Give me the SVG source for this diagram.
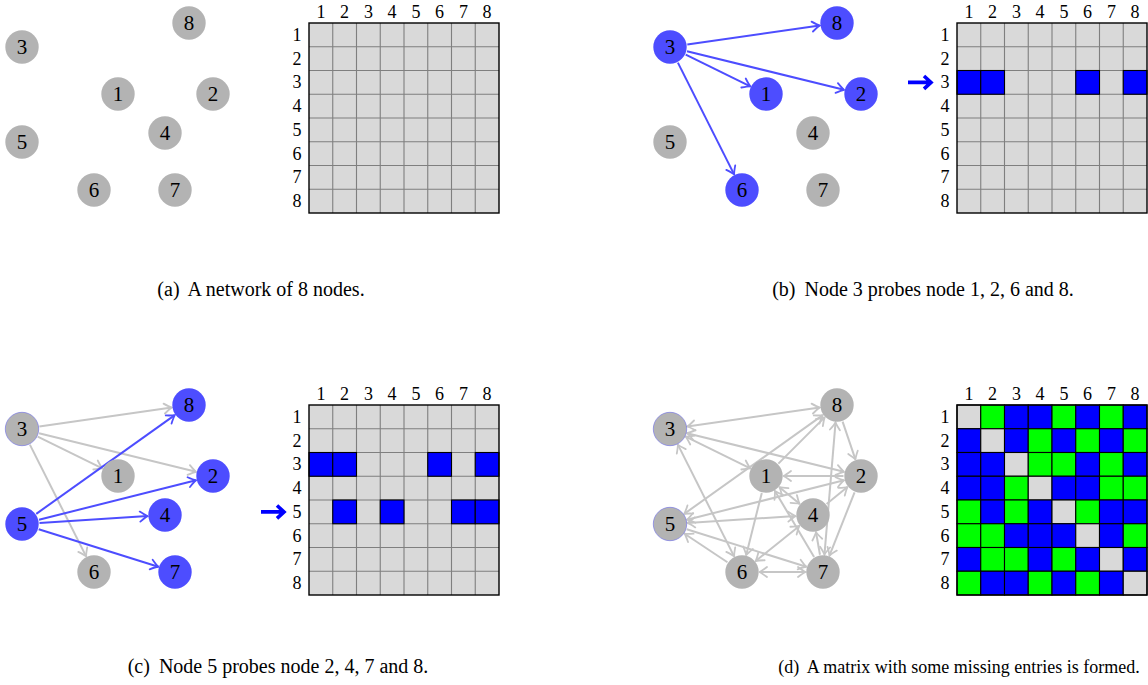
<svg xmlns="http://www.w3.org/2000/svg" width="1148" height="685" viewBox="0 0 1148 685">
<style>
.ng{fill:#b3b3b3}
.nb{fill:#4d4dff}
.no{stroke:#7a7ae6;stroke-width:0.7}
.nl{font-family:"Liberation Serif","Times New Roman",serif;font-size:21px;text-anchor:middle;fill:#000}
.ml{font-family:"Liberation Serif","Times New Roman",serif;font-size:18px;text-anchor:middle;fill:#000}
.cap{font-family:"Liberation Serif","Times New Roman",serif;font-size:20px;text-anchor:middle;fill:#000}
.capd{font-size:18px}
.eb{stroke:#4d4dff;stroke-width:2;fill:none;marker-end:url(#mb)}
.eg{stroke:#c6c6c6;stroke-width:2;fill:none;marker-end:url(#mg)}
.bi{marker-start:url(#mg)}
.bg{fill:#d9d9d9}
.grid{stroke:#7f7f7f;stroke-width:1.1;fill:none}
.frame{stroke:#000;stroke-width:1.4;fill:none}
.cb{fill:#0000ff;stroke:#000;stroke-width:1.1}
.cg{fill:#00ff00;stroke:#000;stroke-width:1.1}
.cd{fill:#d9d9d9;stroke:#000;stroke-width:1.1}
.big{stroke:#0000ff;stroke-width:3.6;fill:none}
</style>
<defs>
<marker id="mb" viewBox="-9 -7 10 14" refX="0" refY="0" markerWidth="10" markerHeight="14" markerUnits="userSpaceOnUse" orient="auto-start-reverse"><path d="M-7.5,-5 Q-2.5,-1.2 0,0 Q-2.5,1.2 -7.5,5" fill="none" stroke="#4d4dff" stroke-width="1.8" stroke-linecap="round"/></marker>
<marker id="mg" viewBox="-9 -7 10 14" refX="0" refY="0" markerWidth="10" markerHeight="14" markerUnits="userSpaceOnUse" orient="auto-start-reverse"><path d="M-7.5,-5 Q-2.5,-1.2 0,0 Q-2.5,1.2 -7.5,5" fill="none" stroke="#c6c6c6" stroke-width="1.8" stroke-linecap="round"/></marker>
<path id="gridpath" d="M332.75,23V213M356.5,23V213M380.25,23V213M404,23V213M427.75,23V213M451.5,23V213M475.25,23V213M309,46.75H499M309,70.5H499M309,94.25H499M309,118H499M309,141.75H499M309,165.5H499M309,189.25H499"/>
</defs>

<!-- ================= Panel (a) ================= -->
<g id="panel-a">
<g id="a-n3"><circle class="ng" cx="22" cy="47" r="16.7"/><text class="nl" x="22" y="54">3</text></g>
<g id="a-n8"><circle class="ng" cx="189" cy="23" r="16.7"/><text class="nl" x="189" y="30">8</text></g>
<g id="a-n1"><circle class="ng" cx="118" cy="94" r="16.7"/><text class="nl" x="118" y="101">1</text></g>
<g id="a-n2"><circle class="ng" cx="213" cy="94" r="16.7"/><text class="nl" x="213" y="101">2</text></g>
<g id="a-n4"><circle class="ng" cx="165" cy="133" r="16.7"/><text class="nl" x="165" y="140">4</text></g>
<g id="a-n5"><circle class="ng" cx="22" cy="142" r="16.7"/><text class="nl" x="22" y="149">5</text></g>
<g id="a-n6"><circle class="ng" cx="94" cy="190" r="16.7"/><text class="nl" x="94" y="197">6</text></g>
<g id="a-n7"><circle class="ng" cx="175" cy="190" r="16.7"/><text class="nl" x="175" y="197">7</text></g>
<g id="a-matrix">
<rect class="bg" x="309" y="23" width="190" height="190"/>
<use href="#gridpath" class="grid"/>
<rect class="frame" x="309" y="23" width="190" height="190"/>
<text class="ml" x="320.9" y="17.5">1</text><text class="ml" x="344.6" y="17.5">2</text><text class="ml" x="368.4" y="17.5">3</text><text class="ml" x="392.1" y="17.5">4</text><text class="ml" x="415.9" y="17.5">5</text><text class="ml" x="439.6" y="17.5">6</text><text class="ml" x="463.4" y="17.5">7</text><text class="ml" x="487.1" y="17.5">8</text>
<text class="ml" x="297" y="40.9">1</text><text class="ml" x="297" y="64.6">2</text><text class="ml" x="297" y="88.4">3</text><text class="ml" x="297" y="112.1">4</text><text class="ml" x="297" y="135.9">5</text><text class="ml" x="297" y="159.6">6</text><text class="ml" x="297" y="183.4">7</text><text class="ml" x="297" y="207.1">8</text>
</g>
<text class="cap" x="261" y="296">(a) <tspan dx="4">A network of 8 nodes.</tspan></text>
</g>

<!-- ================= Panel (b) ================= -->
<g id="panel-b" transform="translate(648,0)">
<g id="b-edges">
<line class="eb" x1="37.72" y1="54.69" x2="102.28" y2="86.31"/>
<line class="eb" x1="38.99" y1="51.18" x2="196.01" y2="89.82"/>
<line class="eb" x1="29.87" y1="62.63" x2="86.13" y2="174.37"/>
<line class="eb" x1="39.32" y1="44.51" x2="171.68" y2="25.49"/>
</g>
<g id="b-n3"><circle class="nb" cx="22" cy="47" r="16.7"/><text class="nl" x="22" y="54">3</text></g>
<g id="b-n8"><circle class="nb" cx="189" cy="23" r="16.7"/><text class="nl" x="189" y="30">8</text></g>
<g id="b-n1"><circle class="nb" cx="118" cy="94" r="16.7"/><text class="nl" x="118" y="101">1</text></g>
<g id="b-n2"><circle class="nb" cx="213" cy="94" r="16.7"/><text class="nl" x="213" y="101">2</text></g>
<g id="b-n4"><circle class="ng" cx="165" cy="133" r="16.7"/><text class="nl" x="165" y="140">4</text></g>
<g id="b-n5"><circle class="ng" cx="22" cy="142" r="16.7"/><text class="nl" x="22" y="149">5</text></g>
<g id="b-n6"><circle class="nb" cx="94" cy="190" r="16.7"/><text class="nl" x="94" y="197">6</text></g>
<g id="b-n7"><circle class="ng" cx="175" cy="190" r="16.7"/><text class="nl" x="175" y="197">7</text></g>
<g id="b-matrix">
<rect class="bg" x="309" y="23" width="190" height="190"/>
<use href="#gridpath" class="grid"/>
<rect class="cb" x="309" y="70.5" width="23.75" height="23.75"/><rect class="cb" x="332.75" y="70.5" width="23.75" height="23.75"/><rect class="cb" x="427.75" y="70.5" width="23.75" height="23.75"/><rect class="cb" x="475.25" y="70.5" width="23.75" height="23.75"/>
<rect class="frame" x="309" y="23" width="190" height="190"/>
<text class="ml" x="320.9" y="17.5">1</text><text class="ml" x="344.6" y="17.5">2</text><text class="ml" x="368.4" y="17.5">3</text><text class="ml" x="392.1" y="17.5">4</text><text class="ml" x="415.9" y="17.5">5</text><text class="ml" x="439.6" y="17.5">6</text><text class="ml" x="463.4" y="17.5">7</text><text class="ml" x="487.1" y="17.5">8</text>
<text class="ml" x="297" y="40.9">1</text><text class="ml" x="297" y="64.6">2</text><text class="ml" x="297" y="88.4">3</text><text class="ml" x="297" y="112.1">4</text><text class="ml" x="297" y="135.9">5</text><text class="ml" x="297" y="159.6">6</text><text class="ml" x="297" y="183.4">7</text><text class="ml" x="297" y="207.1">8</text>
<path class="big" d="M260,82.4H283M276,76L283,82.4L276,88.8"/>
</g>
<text class="cap" x="275" y="296">(b) <tspan dx="4">Node 3 probes node 1, 2, 6 and 8.</tspan></text>
</g>

<!-- ================= Panel (c) ================= -->
<g id="panel-c" transform="translate(0,382)">
<g id="c-edges">
<line class="eg" x1="37.72" y1="54.69" x2="102.28" y2="86.31"/>
<line class="eg" x1="38.99" y1="51.18" x2="196.01" y2="89.82"/>
<line class="eg" x1="29.87" y1="62.63" x2="86.13" y2="174.37"/>
<line class="eg" x1="39.32" y1="44.51" x2="171.68" y2="25.49"/>
<line class="eb" x1="38.97" y1="137.73" x2="196.03" y2="98.27"/>
<line class="eb" x1="39.47" y1="140.90" x2="147.53" y2="134.10"/>
<line class="eb" x1="38.70" y1="147.24" x2="158.30" y2="184.76"/>
<line class="eb" x1="36.25" y1="131.84" x2="174.75" y2="33.16"/>
</g>
<g id="c-n3"><circle class="ng no" cx="22" cy="47" r="16.7"/><text class="nl" x="22" y="54">3</text></g>
<g id="c-n8"><circle class="nb" cx="189" cy="23" r="16.7"/><text class="nl" x="189" y="30">8</text></g>
<g id="c-n1"><circle class="ng" cx="118" cy="94" r="16.7"/><text class="nl" x="118" y="101">1</text></g>
<g id="c-n2"><circle class="nb" cx="213" cy="94" r="16.7"/><text class="nl" x="213" y="101">2</text></g>
<g id="c-n4"><circle class="nb" cx="165" cy="133" r="16.7"/><text class="nl" x="165" y="140">4</text></g>
<g id="c-n5"><circle class="nb" cx="22" cy="142" r="16.7"/><text class="nl" x="22" y="149">5</text></g>
<g id="c-n6"><circle class="ng" cx="94" cy="190" r="16.7"/><text class="nl" x="94" y="197">6</text></g>
<g id="c-n7"><circle class="nb" cx="175" cy="190" r="16.7"/><text class="nl" x="175" y="197">7</text></g>
<g id="c-matrix">
<rect class="bg" x="309" y="23" width="190" height="190"/>
<use href="#gridpath" class="grid"/>
<rect class="cb" x="309" y="70.5" width="23.75" height="23.75"/><rect class="cb" x="332.75" y="70.5" width="23.75" height="23.75"/><rect class="cb" x="427.75" y="70.5" width="23.75" height="23.75"/><rect class="cb" x="475.25" y="70.5" width="23.75" height="23.75"/>
<rect class="cb" x="332.75" y="118" width="23.75" height="23.75"/><rect class="cb" x="380.25" y="118" width="23.75" height="23.75"/><rect class="cb" x="451.5" y="118" width="23.75" height="23.75"/><rect class="cb" x="475.25" y="118" width="23.75" height="23.75"/>
<rect class="frame" x="309" y="23" width="190" height="190"/>
<text class="ml" x="320.9" y="17.5">1</text><text class="ml" x="344.6" y="17.5">2</text><text class="ml" x="368.4" y="17.5">3</text><text class="ml" x="392.1" y="17.5">4</text><text class="ml" x="415.9" y="17.5">5</text><text class="ml" x="439.6" y="17.5">6</text><text class="ml" x="463.4" y="17.5">7</text><text class="ml" x="487.1" y="17.5">8</text>
<text class="ml" x="297" y="40.9">1</text><text class="ml" x="297" y="64.6">2</text><text class="ml" x="297" y="88.4">3</text><text class="ml" x="297" y="112.1">4</text><text class="ml" x="297" y="135.9">5</text><text class="ml" x="297" y="159.6">6</text><text class="ml" x="297" y="183.4">7</text><text class="ml" x="297" y="207.1">8</text>
<path class="big" d="M261,129.9H284M277,123.5L284,129.9L277,136.3"/>
</g>
<text class="cap" x="278" y="291">(c) <tspan dx="4">Node 5 probes node 2, 4, 7 and 8.</tspan></text>
</g>

<!-- ================= Panel (d) ================= -->
<g id="panel-d" transform="translate(648,382)">
<g id="d-edges">
<line class="eg bi" x1="37.72" y1="54.69" x2="102.28" y2="86.31"/>
<line class="eg bi" x1="38.99" y1="51.18" x2="196.01" y2="89.82"/>
<line class="eg bi" x1="29.87" y1="62.63" x2="86.13" y2="174.37"/>
<line class="eg bi" x1="39.32" y1="44.51" x2="171.68" y2="25.49"/>
<line class="eg bi" x1="38.97" y1="137.73" x2="196.03" y2="98.27"/>
<line class="eg bi" x1="39.47" y1="140.90" x2="147.53" y2="134.10"/>
<line class="eg" x1="38.70" y1="147.24" x2="158.30" y2="184.76"/>
<line class="eg bi" x1="36.25" y1="131.84" x2="174.75" y2="33.16"/>
<line class="eg bi" x1="131.47" y1="105.18" x2="151.53" y2="121.82"/>
<line class="eg" x1="113.76" y1="110.98" x2="98.24" y2="173.02"/>
<line class="eg" x1="130.37" y1="81.63" x2="176.63" y2="35.37"/>
<line class="eg" x1="195.5" y1="94" x2="135.5" y2="94"/>
<line class="eg" x1="206.56" y1="110.27" x2="181.44" y2="173.73"/>
<line class="eg" x1="178.58" y1="121.96" x2="199.42" y2="105.04"/>
<line class="eg bi" x1="151.35" y1="143.96" x2="107.65" y2="179.04"/>
<line class="eg" x1="79.44" y1="180.29" x2="36.56" y2="151.71"/>
<line class="eg bi" x1="111.5" y1="190" x2="157.5" y2="190"/>
<line class="eg" x1="166.07" y1="174.95" x2="126.93" y2="108.95"/>
<line class="eg" x1="171.98" y1="172.76" x2="168.02" y2="150.24"/>
<line class="eg bi" x1="176.46" y1="172.56" x2="187.54" y2="40.44"/>
<line class="eg" x1="194.60" y1="39.58" x2="207.40" y2="77.42"/>
</g>
<g id="d-n3"><circle class="ng no" cx="22" cy="47" r="16.7"/><text class="nl" x="22" y="54">3</text></g>
<g id="d-n8"><circle class="ng" cx="189" cy="23" r="16.7"/><text class="nl" x="189" y="30">8</text></g>
<g id="d-n1"><circle class="ng" cx="118" cy="94" r="16.7"/><text class="nl" x="118" y="101">1</text></g>
<g id="d-n2"><circle class="ng" cx="213" cy="94" r="16.7"/><text class="nl" x="213" y="101">2</text></g>
<g id="d-n4"><circle class="ng" cx="165" cy="133" r="16.7"/><text class="nl" x="165" y="140">4</text></g>
<g id="d-n5"><circle class="ng no" cx="22" cy="142" r="16.7"/><text class="nl" x="22" y="149">5</text></g>
<g id="d-n6"><circle class="ng" cx="94" cy="190" r="16.7"/><text class="nl" x="94" y="197">6</text></g>
<g id="d-n7"><circle class="ng" cx="175" cy="190" r="16.7"/><text class="nl" x="175" y="197">7</text></g>
<g id="d-matrix">
<rect class="cd" x="309" y="23" width="23.75" height="23.75"/><rect class="cg" x="332.75" y="23" width="23.75" height="23.75"/><rect class="cb" x="356.5" y="23" width="23.75" height="23.75"/><rect class="cb" x="380.25" y="23" width="23.75" height="23.75"/><rect class="cg" x="404" y="23" width="23.75" height="23.75"/><rect class="cb" x="427.75" y="23" width="23.75" height="23.75"/><rect class="cg" x="451.5" y="23" width="23.75" height="23.75"/><rect class="cb" x="475.25" y="23" width="23.75" height="23.75"/>
<rect class="cb" x="309" y="46.75" width="23.75" height="23.75"/><rect class="cd" x="332.75" y="46.75" width="23.75" height="23.75"/><rect class="cb" x="356.5" y="46.75" width="23.75" height="23.75"/><rect class="cg" x="380.25" y="46.75" width="23.75" height="23.75"/><rect class="cb" x="404" y="46.75" width="23.75" height="23.75"/><rect class="cg" x="427.75" y="46.75" width="23.75" height="23.75"/><rect class="cb" x="451.5" y="46.75" width="23.75" height="23.75"/><rect class="cg" x="475.25" y="46.75" width="23.75" height="23.75"/>
<rect class="cb" x="309" y="70.5" width="23.75" height="23.75"/><rect class="cb" x="332.75" y="70.5" width="23.75" height="23.75"/><rect class="cd" x="356.5" y="70.5" width="23.75" height="23.75"/><rect class="cg" x="380.25" y="70.5" width="23.75" height="23.75"/><rect class="cg" x="404" y="70.5" width="23.75" height="23.75"/><rect class="cb" x="427.75" y="70.5" width="23.75" height="23.75"/><rect class="cg" x="451.5" y="70.5" width="23.75" height="23.75"/><rect class="cb" x="475.25" y="70.5" width="23.75" height="23.75"/>
<rect class="cb" x="309" y="94.25" width="23.75" height="23.75"/><rect class="cb" x="332.75" y="94.25" width="23.75" height="23.75"/><rect class="cg" x="356.5" y="94.25" width="23.75" height="23.75"/><rect class="cd" x="380.25" y="94.25" width="23.75" height="23.75"/><rect class="cb" x="404" y="94.25" width="23.75" height="23.75"/><rect class="cb" x="427.75" y="94.25" width="23.75" height="23.75"/><rect class="cg" x="451.5" y="94.25" width="23.75" height="23.75"/><rect class="cg" x="475.25" y="94.25" width="23.75" height="23.75"/>
<rect class="cg" x="309" y="118" width="23.75" height="23.75"/><rect class="cb" x="332.75" y="118" width="23.75" height="23.75"/><rect class="cg" x="356.5" y="118" width="23.75" height="23.75"/><rect class="cb" x="380.25" y="118" width="23.75" height="23.75"/><rect class="cd" x="404" y="118" width="23.75" height="23.75"/><rect class="cg" x="427.75" y="118" width="23.75" height="23.75"/><rect class="cb" x="451.5" y="118" width="23.75" height="23.75"/><rect class="cb" x="475.25" y="118" width="23.75" height="23.75"/>
<rect class="cg" x="309" y="141.75" width="23.75" height="23.75"/><rect class="cg" x="332.75" y="141.75" width="23.75" height="23.75"/><rect class="cb" x="356.5" y="141.75" width="23.75" height="23.75"/><rect class="cb" x="380.25" y="141.75" width="23.75" height="23.75"/><rect class="cb" x="404" y="141.75" width="23.75" height="23.75"/><rect class="cd" x="427.75" y="141.75" width="23.75" height="23.75"/><rect class="cb" x="451.5" y="141.75" width="23.75" height="23.75"/><rect class="cg" x="475.25" y="141.75" width="23.75" height="23.75"/>
<rect class="cb" x="309" y="165.5" width="23.75" height="23.75"/><rect class="cg" x="332.75" y="165.5" width="23.75" height="23.75"/><rect class="cg" x="356.5" y="165.5" width="23.75" height="23.75"/><rect class="cb" x="380.25" y="165.5" width="23.75" height="23.75"/><rect class="cg" x="404" y="165.5" width="23.75" height="23.75"/><rect class="cb" x="427.75" y="165.5" width="23.75" height="23.75"/><rect class="cd" x="451.5" y="165.5" width="23.75" height="23.75"/><rect class="cb" x="475.25" y="165.5" width="23.75" height="23.75"/>
<rect class="cg" x="309" y="189.25" width="23.75" height="23.75"/><rect class="cb" x="332.75" y="189.25" width="23.75" height="23.75"/><rect class="cb" x="356.5" y="189.25" width="23.75" height="23.75"/><rect class="cg" x="380.25" y="189.25" width="23.75" height="23.75"/><rect class="cb" x="404" y="189.25" width="23.75" height="23.75"/><rect class="cg" x="427.75" y="189.25" width="23.75" height="23.75"/><rect class="cb" x="451.5" y="189.25" width="23.75" height="23.75"/><rect class="cd" x="475.25" y="189.25" width="23.75" height="23.75"/>
<rect class="frame" x="309" y="23" width="190" height="190"/>
<text class="ml" x="320.9" y="17.5">1</text><text class="ml" x="344.6" y="17.5">2</text><text class="ml" x="368.4" y="17.5">3</text><text class="ml" x="392.1" y="17.5">4</text><text class="ml" x="415.9" y="17.5">5</text><text class="ml" x="439.6" y="17.5">6</text><text class="ml" x="463.4" y="17.5">7</text><text class="ml" x="487.1" y="17.5">8</text>
<text class="ml" x="297" y="40.9">1</text><text class="ml" x="297" y="64.6">2</text><text class="ml" x="297" y="88.4">3</text><text class="ml" x="297" y="112.1">4</text><text class="ml" x="297" y="135.9">5</text><text class="ml" x="297" y="159.6">6</text><text class="ml" x="297" y="183.4">7</text><text class="ml" x="297" y="207.1">8</text>
</g>
<text class="cap capd" x="311" y="291">(d) <tspan dx="4">A matrix with some missing entries is formed.</tspan></text>
</g>
</svg>
